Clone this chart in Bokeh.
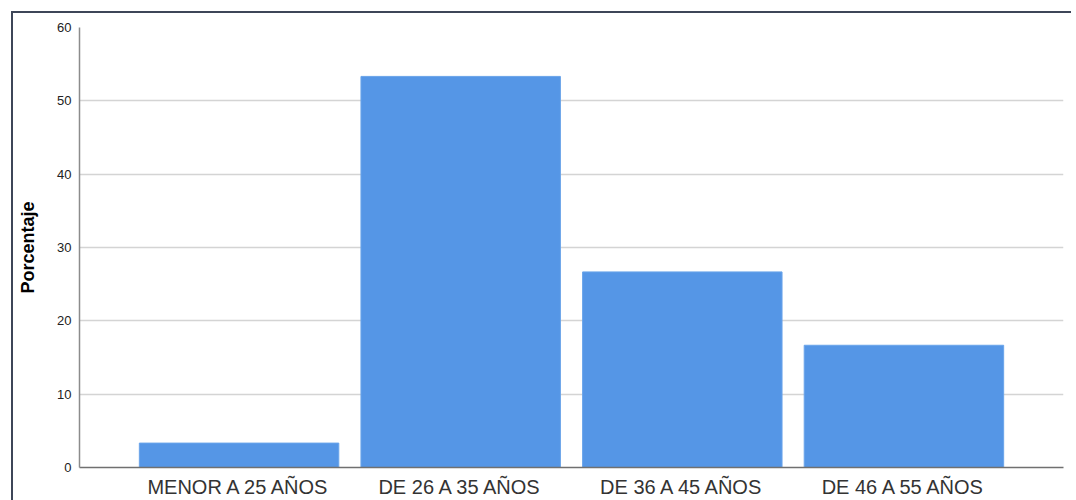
from bokeh.plotting import figure
from bokeh.models import FactorRange, Range1d, SingleIntervalTicker
from bokeh.embed import file_html
from bokeh.resources import INLINE

categories = ["MENOR A 25 AÑOS", "DE 26 A 35 AÑOS", "DE 36 A 45 AÑOS", "DE 46 A 55 AÑOS"]
percentages = [3.33, 53.33, 26.67, 16.67]
y_ticks_step = 10
y_title = "Porcentaje"

p = figure(
    x_range=FactorRange(factors=categories, range_padding=0.11),
    y_range=Range1d(0, 60),
    frame_width=984, frame_height=440,
    output_backend="svg", toolbar_location=None,
    min_border_left=66, min_border_top=14, min_border_right=8, min_border_bottom=20,
    margin=(11, 0, 0, 11),
)
p.styles = {"border-top": "2px solid #3d4658", "border-left": "2px solid #3d4658"}

p.vbar(x=categories, top=percentages, width=0.9, fill_color="#5596e6",
       line_color="#6aa4ea", line_width=1)

p.outline_line_color = None
p.xgrid.grid_line_color = None
p.ygrid.grid_line_color = "#d4d4d4"
p.ygrid.grid_line_width = 1.5

p.yaxis.ticker = SingleIntervalTicker(interval=y_ticks_step)
p.yaxis.minor_tick_line_color = None
p.yaxis.major_tick_out = 0
p.yaxis.major_tick_in = 0
p.yaxis.major_label_standoff = 4
p.yaxis.major_label_text_font = "Liberation Sans"
p.yaxis.major_label_text_font_size = "13px"
p.yaxis.major_label_text_color = "#222222"
p.yaxis.axis_line_color = "#8c8c8c"
p.yaxis.axis_line_width = 1.5
p.yaxis.axis_label = y_title
p.yaxis.axis_label_text_font = "Liberation Sans"
p.yaxis.axis_label_text_font_style = "bold"
p.yaxis.axis_label_text_font_size = "18px"
p.yaxis.axis_label_text_color = "#000000"
p.yaxis.axis_label_standoff = 16

p.xaxis.major_tick_out = 0
p.xaxis.major_tick_in = 0
p.xaxis.major_label_standoff = 8
p.xaxis.major_label_text_font = "Liberation Sans"
p.xaxis.major_label_text_font_size = "20px"
p.xaxis.major_label_text_color = "#333333"
p.xaxis.axis_line_color = "#707070"
p.xaxis.axis_line_width = 1.5

open("out.html", "w").write(file_html(p, INLINE))
